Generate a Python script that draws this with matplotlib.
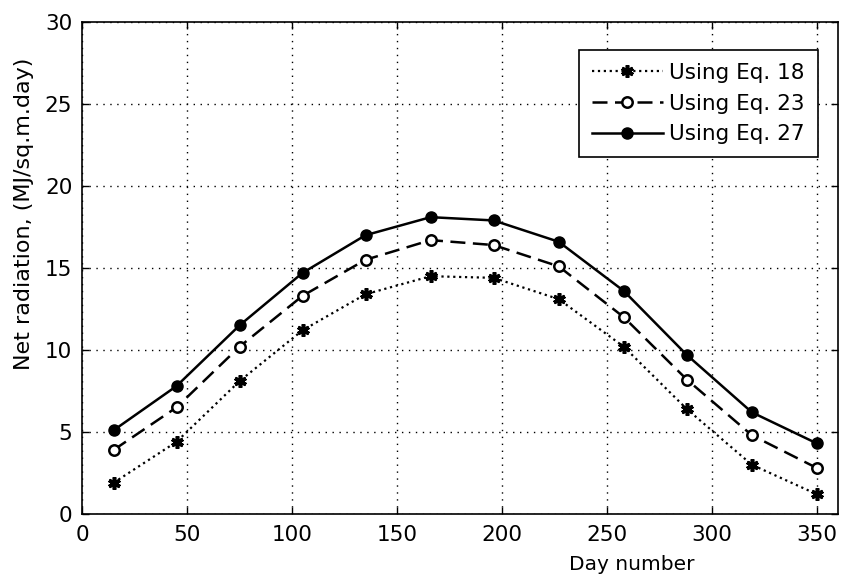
import numpy as np
import matplotlib
matplotlib.use('Agg')
import matplotlib.pyplot as plt

plt.rcParams['font.family'] = ['DejaVu Sans']

# datos
dias = [15, 45, 75, 105, 135, 166, 196, 227, 258, 288, 319, 350]
eq18 = [1.9, 4.4, 8.1, 11.2, 13.4, 14.5, 14.4, 13.1, 10.2, 6.4, 3.0, 1.2]
eq23 = [3.9, 6.5, 10.2, 13.3, 15.5, 16.7, 16.4, 15.1, 12.0, 8.2, 4.8, 2.8]
eq27 = [5.1, 7.8, 11.5, 14.7, 17.0, 18.1, 17.9, 16.6, 13.6, 9.7, 6.2, 4.3]

etiquetas = ['Using Eq. 18', 'Using Eq. 23', 'Using Eq. 27']

fig = plt.figure(figsize=(8.44, 5.78), dpi=100)
ax = fig.add_axes([82/844, 64/578, 756/844, 492/578])

ax.plot(dias, eq18, linestyle=':', color='black', linewidth=1.6,
        marker=(6, 2, 0), markersize=9, markeredgewidth=2.6, label=etiquetas[0])
ax.plot(dias, eq23, linestyle='--', dashes=(6, 3), color='black', linewidth=1.8,
        marker='o', markersize=7.5, markerfacecolor='white', markeredgewidth=1.8,
        label=etiquetas[1])
ax.plot(dias, eq27, linestyle='-', color='black', linewidth=1.8,
        marker='o', markersize=8, markerfacecolor='black', label=etiquetas[2])

ax.set_xlim(0, 360)
ax.set_ylim(0, 30)
ax.set_xticks(np.arange(0, 351, 50))
ax.set_yticks(np.arange(0, 31, 5))
ax.tick_params(direction='in', top=True, right=True, labelsize=15.5, length=5, width=1)
ax.tick_params(axis='y', pad=7)
ax.tick_params(axis='x', pad=8)
ax.grid(True, color='black', linestyle=(0, (1, 4)), linewidth=1)
for s in ax.spines.values():
    s.set_linewidth(1.2)

leg = ax.legend(loc='upper right', bbox_to_anchor=(0.9735, 0.943), borderaxespad=0,
                fontsize=15.5, handlelength=3.3, handletextpad=0.3, labelspacing=0.5,
                borderpad=0.6, fancybox=False, framealpha=1, edgecolor='black')
leg.get_frame().set_linewidth(1.2)

fig.text(24/844, 1 - 214/578, 'Net radiation, (MJ/sq.m.day)', rotation=90,
         ha='center', va='center', fontsize=16)
fig.text(632/844, 1 - 565/578, 'Day number', ha='center', va='center', fontsize=14.5)

fig.savefig('out.png', dpi=100)
